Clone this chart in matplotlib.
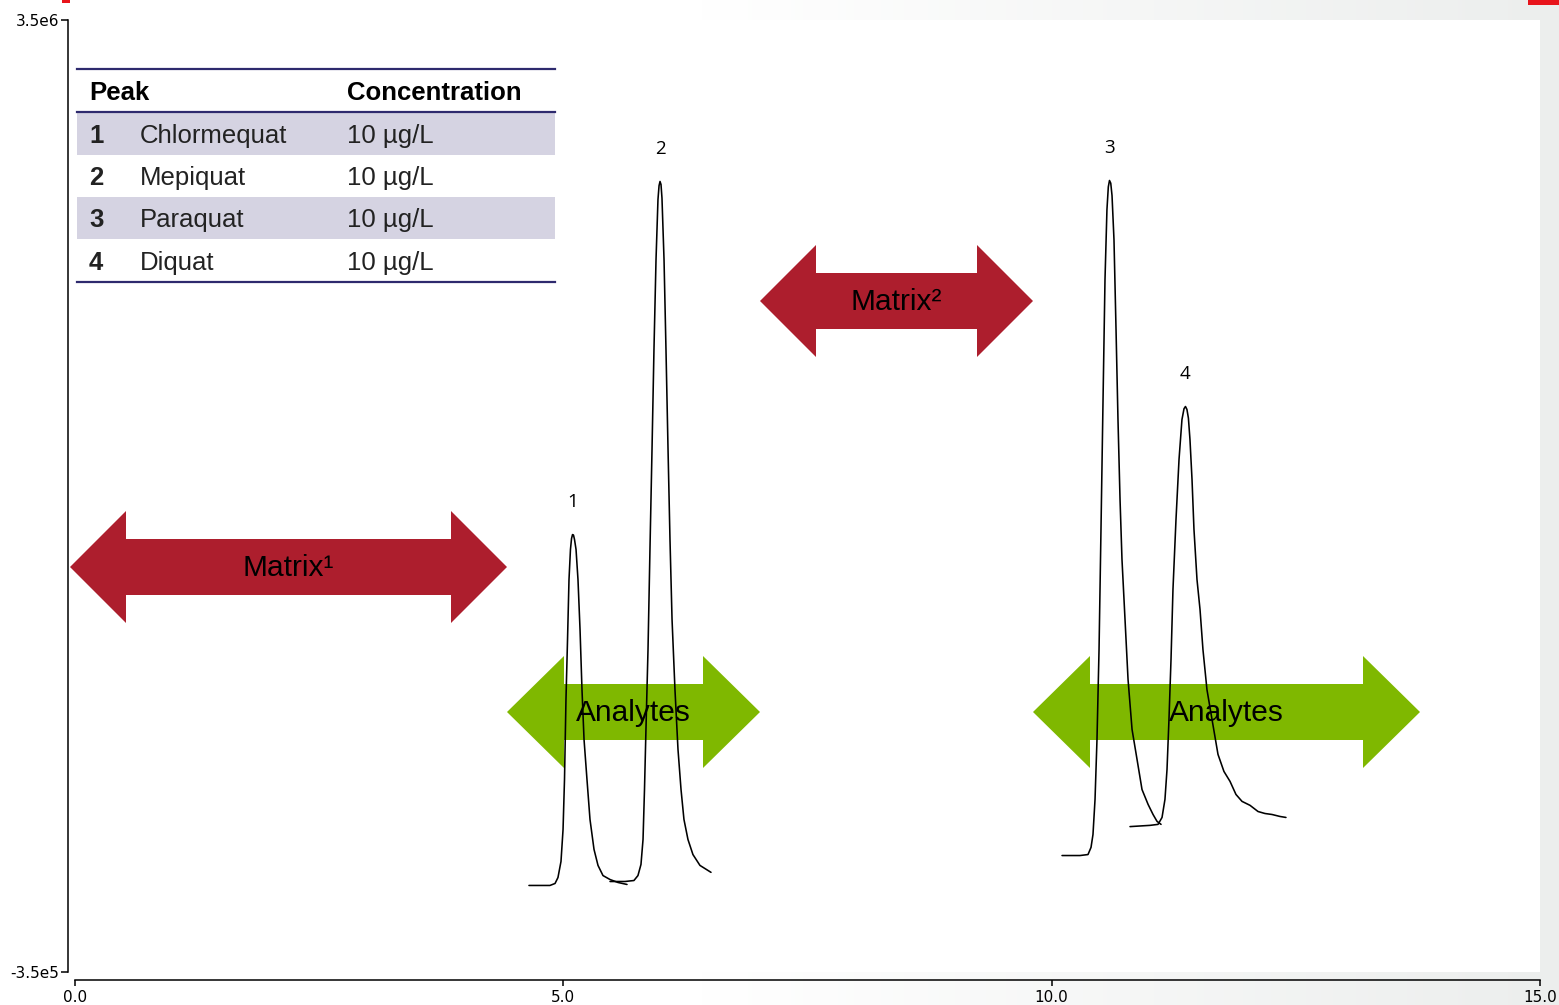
import numpy as np
import matplotlib
matplotlib.use("Agg")
import matplotlib.pyplot as plt
from matplotlib.patches import Polygon, Rectangle
from matplotlib.lines import Line2D

# ---------------- data ----------------
peak1_t = [4.648, 4.863, 4.915, 4.945, 4.976, 4.997, 5.012, 5.027, 5.043, 5.058, 5.073, 5.084, 5.094, 5.104,
           5.114, 5.130, 5.150, 5.171, 5.191, 5.212, 5.242, 5.273, 5.314, 5.355, 5.406, 5.478, 5.560, 5.652]
peak1_s = [0, 0, 8, 32, 97, 226, 429, 752, 995, 1237, 1359, 1403, 1419, 1417,
           1400, 1359, 1237, 1035, 792, 590, 429, 267, 146, 81, 40, 24, 12, 4]

peak2_t = [5.478, 5.631, 5.723, 5.764, 5.795, 5.816, 5.831, 5.846, 5.867, 5.887, 5.908, 5.928, 5.949, 5.969,
           5.980, 5.990, 6.000, 6.010, 6.031, 6.051, 6.072, 6.092, 6.113, 6.143, 6.174, 6.205, 6.235, 6.276,
           6.327, 6.399, 6.512]
peak2_s = [16, 16, 20, 40, 85, 186, 388, 631, 954, 1359, 1763, 2167, 2531, 2774,
           2830, 2847, 2835, 2780, 2531, 2167, 1763, 1399, 1076, 792, 550, 388, 267, 186,
           125, 81, 53]

peak3_t = [10.106, 10.290, 10.372, 10.403, 10.423, 10.444, 10.464, 10.485, 10.505, 10.526, 10.546, 10.566,
           10.580, 10.592, 10.605, 10.618, 10.638, 10.659, 10.679, 10.700, 10.720, 10.751, 10.782, 10.823,
           10.874, 10.925, 10.987, 11.038, 11.079, 11.120]
peak3_s = [121, 121, 125, 154, 206, 348, 590, 954, 1440, 1965, 2450, 2733,
           2825, 2851, 2840, 2790, 2612, 2248, 1884, 1561, 1318, 1076, 833, 631,
           510, 388, 328, 287, 259, 247]

peak4_t = [10.802, 11.007, 11.089, 11.130, 11.160, 11.181, 11.201, 11.222, 11.242, 11.273, 11.304, 11.334,
           11.355, 11.370, 11.385, 11.400, 11.416, 11.437, 11.457, 11.488, 11.519, 11.549, 11.590, 11.642,
           11.703, 11.764, 11.826, 11.887, 11.949, 12.031, 12.113, 12.184, 12.256, 12.338, 12.399]
peak4_s = [238, 243, 247, 275, 348, 469, 671, 914, 1197, 1480, 1723, 1884,
           1928, 1937, 1925, 1890, 1804, 1642, 1440, 1237, 1116, 954, 792, 671,
           530, 461, 421, 368, 340, 324, 299, 291, 287, 279, 275]

peak_labels = ["1", "2", "3", "4"]

table_ids = ["1", "2", "3", "4"]
table_names = ["Chlormequat", "Mepiquat", "Paraquat", "Diquat"]
table_conc = ["10 µg/L", "10 µg/L", "10 µg/L", "10 µg/L"]
table_header = ["Peak", "Concentration"]

x_ticks = [0.0, 5.0, 10.0, 15.0]
x_ticklabels = ["0.0", "5.0", "10.0", "15.0"]
y_ticks = [-3.5e5, 3.5e6]
y_ticklabels = ["-3.5e5", "3.5e6"]

# ---------------- figure ----------------
W, H = 1559, 1005
fig = plt.figure(figsize=(W / 100, H / 100), dpi=100)
fig.patch.set_facecolor("white")

def fx(px):
    return px / W

def fy(py):
    return 1 - py / H

# background gradient
bg = fig.add_axes([0, 0, 1, 1], zorder=-10)
bg.set_axis_off()
grad = np.linspace(0, 1, 400)
ramp = np.clip((grad - 0.45) / 0.55, 0, 1)
c0 = np.array([1.0, 1.0, 1.0])
c1 = np.array([0xEC, 0xEE, 0xED]) / 255
img = c0[None, None, :] * (1 - ramp[None, :, None]) + c1[None, None, :] * ramp[None, :, None]
img = np.repeat(img, 2, axis=0)
bg.imshow(img, aspect="auto", extent=[0, 1, 0, 1])
bg.set_xlim(0, 1)
bg.set_ylim(0, 1)
bg.add_patch(Rectangle((fx(62), fy(3)), fx(8), 3 / H, color="#E8141B", lw=0))
bg.add_patch(Rectangle((fx(1528), fy(5)), fx(31), 5 / H, color="#E8141B", lw=0))

ax = fig.add_axes([fx(75), fy(972), fx(1540) - fx(75), fy(20) - fy(972)])
ax.set_facecolor("white")
ax.set_xlim(0, 15)
ax.set_ylim(-3.5e5, 3.5e6)

series = [(peak1_t, peak1_s), (peak2_t, peak2_s), (peak3_t, peak3_s), (peak4_t, peak4_s)]
for t, s in series:
    ax.plot(t, np.array(s) * 1e3, color="black", lw=1.15, zorder=5,
            solid_joinstyle="round", solid_capstyle="round")

for lab, (t, s) in zip(peak_labels, series):
    i = int(np.argmax(s))
    ax.annotate(lab, (t[i], s[i] * 1e3), xytext=(0, 23.5), textcoords="offset points",
                ha="center", va="center", fontsize=13.5, family="Open Sans", zorder=6)

# spines / ticks
for sp in ["top", "right"]:
    ax.spines[sp].set_visible(False)
ax.spines["left"].set_position(("outward", 5))
ax.spines["bottom"].set_position(("outward", 6))
ax.spines["left"].set_linewidth(1.1)
ax.spines["bottom"].set_linewidth(1.1)
ax.set_xticks(x_ticks)
ax.set_xticklabels(x_ticklabels)
ax.set_yticks(y_ticks)
ax.set_yticklabels(y_ticklabels)
ax.tick_params(axis="x", length=4, width=1.1, pad=3, labelsize=11)
ax.tick_params(axis="y", length=5, width=1.1, pad=1.5, labelsize=11)
for lab in ax.get_xticklabels() + ax.get_yticklabels():
    lab.set_family("DejaVu Sans")

# arrows
def dbl_arrow(x0, x1, yc, color, head=56, body=28, headw=56):
    pts = [(x0, yc), (x0 + head, yc - headw), (x0 + head, yc - body), (x1 - head, yc - body),
           (x1 - head, yc - headw), (x1, yc), (x1 - head, yc + headw), (x1 - head, yc + body),
           (x0 + head, yc + body), (x0 + head, yc + headw)]
    poly = Polygon([(fx(a), fy(b)) for a, b in pts], closed=True, transform=fig.transFigure,
                   facecolor=color, edgecolor="none", clip_on=False, zorder=2)
    ax.add_patch(poly)

RED = "#AD1E2D"
GREEN = "#7FB800"
dbl_arrow(70, 507, 567, RED)
dbl_arrow(760, 1033, 301, RED)
dbl_arrow(507, 760, 712, GREEN, head=57)
dbl_arrow(1033, 1420, 712, GREEN, head=57)

afont = dict(fontsize=21.5, family=["Liberation Sans", "DejaVu Sans"], ha="center", va="center",
             transform=fig.transFigure, zorder=7)
ax.text(fx(288), fy(568), "Matrix¹", **afont)
ax.text(fx(896), fy(302), "Matrix²", **afont)
ax.text(fx(633), fy(713), "Analytes", **afont)
ax.text(fx(1226), fy(713), "Analytes", **afont)

# table
NAVY = "#2E2A6E"
SHADE = "#D5D3E2"
tx0, tx1 = 77, 555
row_y = [134, 176, 218, 261]
for i, yc in enumerate(row_y):
    if i % 2 == 0:
        ax.add_patch(Rectangle((fx(tx0), fy(yc + 21)), fx(tx1) - fx(tx0), 42 / H,
                               transform=fig.transFigure, facecolor=SHADE, edgecolor="none",
                               clip_on=False, zorder=3))
for yl in [69, 112, 282]:
    ax.add_line(Line2D([fx(tx0), fx(tx1)], [fy(yl), fy(yl)], transform=fig.transFigure,
                       color=NAVY, lw=1.6, clip_on=False, zorder=4))
tfont = dict(fontsize=18.5, family=["Liberation Sans", "DejaVu Sans"], va="center",
             transform=fig.transFigure, zorder=6)
ax.text(fx(89), fy(93), table_header[0], fontweight="bold", **tfont)
ax.text(fx(347), fy(93), table_header[1], fontweight="bold", **tfont)
for yc, pid, nm, cc in zip(row_y, table_ids, table_names, table_conc):
    ax.text(fx(89), fy(yc + 2), pid, fontweight="bold", color="#222222", **tfont)
    ax.text(fx(140), fy(yc + 2), nm, color="#222222", **tfont)
    ax.text(fx(347), fy(yc + 2), cc, color="#222222", **tfont)

fig.savefig("out.png", dpi=100)
